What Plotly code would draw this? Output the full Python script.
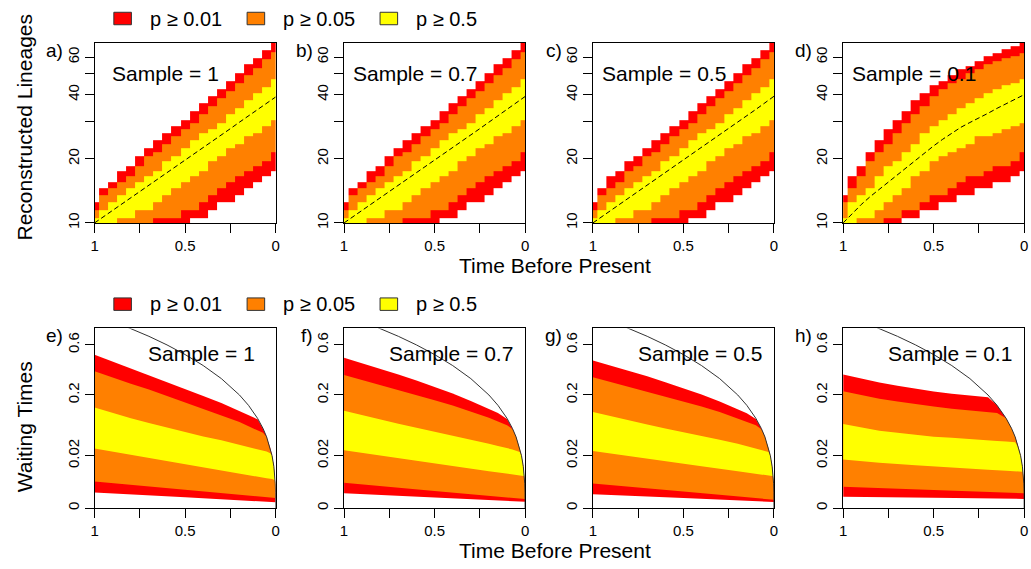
import numpy as np
import plotly.graph_objects as go

# ===================== DATA =====================
# ---- top row: reconstructed lineages (counts), time before present ----
time_grid = [1.0, 0.95, 0.9, 0.85, 0.8, 0.75, 0.7, 0.65, 0.6, 0.55, 0.5,
             0.45, 0.4, 0.35, 0.3, 0.25, 0.2, 0.15, 0.1, 0.05, 0.0]
lineage_rows = list(range(10, 71))

a_median    = [10, 10.7, 11.4, 12.2, 13.1, 14.0, 15.0, 16.1, 17.2, 18.4, 19.7, 21.1, 22.6, 24.2, 25.9, 27.7, 29.7, 31.8, 34.0, 36.4, 39.0]
a_red_hi    = [12, 14, 15, 17, 18, 20, 22, 24, 26, 28, 30, 33, 36, 39, 42, 46, 50, 55, 59, 64, 70]
a_orange_hi = [11, 13, 14, 15, 16, 18, 20, 21, 23, 25, 27, 29, 32, 35, 38, 41, 45, 49, 53, 58, 63]
a_yellow_hi = [10, 11, 12, 13, 14, 15, 16, 17, 19, 20, 22, 24, 26, 27, 29, 32, 34, 37, 40, 43, 47]
a_yellow_lo = [10, 10, 10, 11, 11, 12, 12, 13, 14, 15, 16, 17, 18, 20, 21, 23, 24, 26, 27, 29, 31]
a_orange_lo = [10, 10, 10, 10, 10, 10, 10, 11, 11, 11, 12, 12, 13, 14, 15, 16, 17, 18, 19, 20, 22]
a_red_lo    = [10, 10, 10, 10, 10, 10, 10, 10, 10, 10, 10, 11, 11, 12, 13, 13, 14, 15, 16, 17, 18]

b_median    = [10, 10.7, 11.4, 12.2, 13.1, 14.0, 15.0, 16.1, 17.2, 18.4, 19.7, 21.1, 22.6, 24.2, 25.9, 27.7, 29.7, 31.8, 34.0, 36.5, 39.2]
b_red_hi    = [12, 14, 15, 17, 18, 20, 22, 24, 26, 28, 30, 33, 36, 39, 42, 46, 50, 55, 59, 64, 70]
b_orange_hi = [11, 13, 14, 15, 16, 18, 20, 21, 23, 25, 27, 29, 32, 35, 38, 41, 45, 49, 53, 58, 63]
b_yellow_hi = [10, 11, 12, 13, 14, 15, 16, 17, 19, 20, 22, 24, 26, 27, 29, 32, 34, 37, 40, 43, 47]
b_yellow_lo = [10, 10, 10, 11, 11, 12, 12, 13, 14, 15, 16, 17, 18, 20, 21, 23, 24, 26, 27, 29, 31]
b_orange_lo = [10, 10, 10, 10, 10, 10, 10, 11, 11, 11, 12, 12, 13, 14, 15, 16, 17, 18, 19, 20, 22]
b_red_lo    = [10, 10, 10, 10, 10, 10, 10, 10, 10, 10, 10, 11, 11, 12, 13, 13, 14, 15, 16, 17, 18]

c_median    = [10, 10.7, 11.5, 12.3, 13.2, 14.1, 15.1, 16.2, 17.3, 18.5, 19.8, 21.2, 22.7, 24.3, 26.0, 27.8, 29.8, 31.9, 34.1, 36.6, 39.3]
c_red_hi    = [12, 14, 16, 17, 19, 20, 22, 24, 26, 28, 30, 33, 36, 39, 42, 46, 50, 55, 59, 64, 70]
c_orange_hi = [11, 13, 14, 15, 17, 18, 20, 21, 23, 25, 27, 29, 32, 35, 38, 41, 45, 49, 53, 58, 63]
c_yellow_hi = [10, 11, 12, 13, 14, 15, 16, 17, 19, 20, 22, 24, 26, 27, 29, 32, 34, 37, 40, 43, 47]
c_yellow_lo = [10, 10, 10, 11, 11, 12, 12, 13, 14, 15, 16, 17, 18, 20, 21, 23, 24, 26, 27, 29, 31]
c_orange_lo = [10, 10, 10, 10, 10, 10, 10, 11, 11, 11, 12, 12, 13, 14, 15, 16, 17, 18, 19, 20, 22]
c_red_lo    = [10, 10, 10, 10, 10, 10, 10, 10, 10, 10, 10, 11, 11, 12, 13, 13, 14, 15, 16, 17, 18]

d_median    = [10, 11.1, 12.2, 13.3, 14.4, 15.6, 16.9, 18.2, 19.6, 21.3, 23.0, 24.7, 26.4, 28.1, 29.6, 31.0, 32.7, 34.5, 36.3, 38.1, 40.0]
d_red_hi    = [13, 16, 18, 21, 24, 27, 30, 33, 37, 40, 44, 46, 49, 52, 54, 57, 60, 62, 65, 67, 70]
d_orange_hi = [12, 14, 16, 19, 21, 23, 26, 29, 32, 35, 39, 42, 45, 47, 50, 52, 55, 57, 59, 60, 62]
d_yellow_hi = [10, 12, 13, 14, 16, 18, 19, 21, 23, 26, 28, 30, 32, 34, 36, 38, 40, 42, 44, 45, 47]
d_yellow_lo = [10, 10, 11, 11, 12, 13, 14, 15, 17, 18, 20, 21, 22, 23, 24, 26, 26, 27, 28, 29, 30]
d_orange_lo = [10, 10, 10, 10, 10, 11, 11, 12, 12, 13, 14, 14, 15, 16, 17, 17, 18, 19, 19, 20, 22]
d_red_lo    = [10, 10, 10, 10, 10, 10, 10, 11, 11, 12, 12, 13, 13, 14, 14, 15, 15, 16, 16, 17, 18]

# ---- bottom row: waiting times ----
wt_top_t = [1, 0.9, 0.8, 0.7, 0.6, 0.5, 0.4, 0.3, 0.2, 0.15, 0.1, 0.07, 0.05, 0.03, 0.02, 0.01, 0.005, 0.002, 0.0005]
wt_ybot_t = [1, 0.8, 0.6, 0.4, 0.2, 0.1, 0.05, 0.02, 0.01, 0.005, 0.002, 0.0005]
wt_bot_t = [1, 0.5, 0]

e_red_top    = [0.498, 0.434, 0.378, 0.327, 0.279, 0.237, 0.195, 0.160, 0.125, 0.109, 0.097, 0.07, 0.05, 0.03, 0.02, 0.01, 0.005, 0.002, 0.0005]
e_orange_top = [0.354, 0.306, 0.266, 0.230, 0.195, 0.164, 0.136, 0.110, 0.088, 0.076, 0.066, 0.059, 0.05, 0.03, 0.02, 0.01, 0.005, 0.002, 0.0005]
e_yellow_top = [0.141, 0.119, 0.100, 0.085, 0.072, 0.061, 0.051, 0.043, 0.035, 0.032, 0.028, 0.026, 0.025, 0.023, 0.02, 0.01, 0.005, 0.002, 0.0005]
e_yellow_bot = [0.0292, 0.0209, 0.0144, 0.0094, 0.0057, 0.0043, 0.0037, 0.0034, 0.0032, 0.0032, 0.002, 0.0005]
e_orange_bot = [0.00262, 0.00086, 0.000147]
e_red_bot    = [0.000544, 0.000177, 0.0000287]

f_red_top    = [0.469, 0.419, 0.376, 0.330, 0.287, 0.245, 0.208, 0.170, 0.135, 0.119, 0.098, 0.07, 0.05, 0.03, 0.02, 0.01, 0.005, 0.002, 0.0005]
f_orange_top = [0.326, 0.291, 0.259, 0.230, 0.201, 0.174, 0.149, 0.125, 0.102, 0.090, 0.079, 0.068, 0.05, 0.03, 0.02, 0.01, 0.005, 0.002, 0.0005]
f_yellow_top = [0.128, 0.111, 0.096, 0.083, 0.072, 0.062, 0.053, 0.045, 0.037, 0.033, 0.030, 0.028, 0.026, 0.0245, 0.02, 0.01, 0.005, 0.002, 0.0005]
f_yellow_bot = [0.0267, 0.0201, 0.0147, 0.0104, 0.0070, 0.0056, 0.0050, 0.0047, 0.0046, 0.0046, 0.002, 0.0005]
f_orange_bot = [0.00224, 0.00070, 0.000104]
f_red_bot    = [0.00046, 0.00017, 0.000038]

g_red_top    = [0.445, 0.400, 0.358, 0.316, 0.276, 0.237, 0.203, 0.167, 0.134, 0.118, 0.098, 0.07, 0.05, 0.03, 0.02, 0.01, 0.005, 0.002, 0.0005]
g_orange_top = [0.309, 0.276, 0.247, 0.220, 0.194, 0.168, 0.145, 0.123, 0.100, 0.090, 0.079, 0.068, 0.05, 0.03, 0.02, 0.01, 0.005, 0.002, 0.0005]
g_yellow_top = [0.123, 0.107, 0.093, 0.081, 0.070, 0.061, 0.052, 0.044, 0.037, 0.033, 0.030, 0.028, 0.026, 0.0245, 0.02, 0.01, 0.005, 0.002, 0.0005]
g_yellow_bot = [0.0258, 0.0196, 0.0144, 0.0102, 0.0069, 0.0056, 0.0050, 0.0047, 0.0046, 0.0046, 0.002, 0.0005]
g_orange_bot = [0.00207, 0.00063, 0.000083]
g_red_bot    = [0.000375, 0.000141, 0.0000324]

h_red_top    = [0.329, 0.298, 0.274, 0.253, 0.235, 0.219, 0.207, 0.196, 0.188, 0.15, 0.1, 0.07, 0.05, 0.03, 0.02, 0.01, 0.005, 0.002, 0.0005]
h_orange_top = [0.221, 0.200, 0.181, 0.167, 0.155, 0.145, 0.136, 0.128, 0.122, 0.119, 0.1, 0.07, 0.05, 0.03, 0.02, 0.01, 0.005, 0.002, 0.0005]
h_yellow_top = [0.082, 0.072, 0.064, 0.059, 0.054, 0.0505, 0.048, 0.045, 0.043, 0.042, 0.041, 0.040, 0.0395, 0.03, 0.02, 0.01, 0.005, 0.002, 0.0005]
h_yellow_bot = [0.0160, 0.0130, 0.0109, 0.0092, 0.0079, 0.0073, 0.0070, 0.0068, 0.0067, 0.005, 0.002, 0.0005]
h_orange_bot = [0.00136, 0.00082, 0.00045]
h_red_bot    = [0.000212, 0.000155, 0.000109]

# upper envelope of waiting times
bound_t = [0.85, 0.8, 0.7, 0.6, 0.5, 0.4, 0.3, 0.2, 0.15, 0.1, 0.07, 0.05, 0.03, 0.02, 0.01, 0.005, 0.002, 0.0005, 0.0001, 0.0]
bound_w = [0.85, 0.8, 0.7, 0.6, 0.5, 0.4, 0.3, 0.2, 0.15, 0.1, 0.07, 0.05, 0.03, 0.02, 0.01, 0.005, 0.002, 0.0005, 0.0001, 0.0]

panel_labels_top = ["a)", "b)", "c)", "d)"]
panel_labels_bot = ["e)", "f)", "g)", "h)"]
sample_texts = ["Sample = 1", "Sample = 0.7", "Sample = 0.5", "Sample = 0.1"]
legend_labels = ["p \u2265 0.01", "p \u2265 0.05", "p \u2265 0.5"]
x_tickvals = [1, 0.75, 0.5, 0.25, 0]
x_ticktext = ["1", "", "0.5", "", "0"]
lin_tickvals = [10, 20, 30, 40, 50, 60]
lin_ticktext = ["10", "20", "", "40", "", "60"]
wt_tickvals = [0, 0.02, 0.2, 0.6]
wt_ticktext = ["0", "0.02", "0.2", "0.6"]

# ===================== STYLE / LAYOUT =====================
RED, ORANGE, YELLOW = "#FF0000", "#FF8000", "#FFFF00"
FONT = "Liberation Sans, Arial, sans-serif"
W, H = 1031, 569

def px_x(p):
    return p / W

def px_y(p):
    return 1 - p / H

panel_left = [91.3, 342.7, 593.5, 845.7]
panel_w = 182.5
row_top = [43.3, 332.0]
row_bot = [225.3, 513.6]

fig = go.Figure()

top_panels = [
    (a_median, a_red_lo, a_orange_lo, a_yellow_lo, a_yellow_hi, a_orange_hi, a_red_hi),
    (b_median, b_red_lo, b_orange_lo, b_yellow_lo, b_yellow_hi, b_orange_hi, b_red_hi),
    (c_median, c_red_lo, c_orange_lo, c_yellow_lo, c_yellow_hi, c_orange_hi, c_red_hi),
    (d_median, d_red_lo, d_orange_lo, d_yellow_lo, d_yellow_hi, d_orange_hi, d_red_hi),
]
bottom_panels = [
    (e_red_top, e_orange_top, e_yellow_top, e_yellow_bot, e_orange_bot, e_red_bot),
    (f_red_top, f_orange_top, f_yellow_top, f_yellow_bot, f_orange_bot, f_red_bot),
    (g_red_top, g_orange_top, g_yellow_top, g_yellow_bot, g_orange_bot, g_red_bot),
    (h_red_top, h_orange_top, h_yellow_top, h_yellow_bot, h_orange_bot, h_red_bot),
]

colorscale = [[0, RED], [1 / 3, RED], [1 / 3, ORANGE], [2 / 3, ORANGE], [2 / 3, YELLOW], [1, YELLOW]]
t_asc = time_grid[::-1]

def axnames(k):
    return ("x" if k == 1 else f"x{k}", "y" if k == 1 else f"y{k}")

for i, (med, r_lo, o_lo, y_lo, y_hi, o_hi, r_hi) in enumerate(top_panels):
    xa, ya = axnames(i + 1)
    z = []
    for n in lineage_rows:
        row = []
        for j in range(len(time_grid)):
            if y_lo[j] <= n <= y_hi[j]:
                v = 3
            elif o_lo[j] <= n <= o_hi[j]:
                v = 2
            elif r_lo[j] <= n <= r_hi[j]:
                v = 1
            else:
                v = None
            row.append(v)
        z.append(row[::-1])
    fig.add_trace(go.Heatmap(x=t_asc, y=lineage_rows, z=z, zmin=0.5, zmax=3.5,
                             colorscale=colorscale, showscale=False, hoverinfo="skip",
                             xaxis=xa, yaxis=ya))
    fig.add_trace(go.Scatter(x=time_grid, y=med, mode="lines",
                             line=dict(color="black", width=1, dash="5px,3px"),
                             hoverinfo="skip", showlegend=False, xaxis=xa, yaxis=ya))

for i, (rt, ot, yt, yb, ob, rb) in enumerate(bottom_panels):
    xa, ya = axnames(i + 5)
    bands = [(wt_top_t, rt, wt_bot_t, rb, RED),
             (wt_top_t, ot, wt_bot_t, ob, ORANGE),
             (wt_top_t, yt, wt_ybot_t, yb, YELLOW)]
    for tt, tw, bt, bw, col in bands:
        xs = list(tt) + list(bt[::-1])
        ys = np.cbrt(np.array(list(tw) + list(bw[::-1]), dtype=float))
        fig.add_trace(go.Scatter(x=xs, y=ys, mode="lines", fill="toself", fillcolor=col,
                                 line=dict(width=0, color=col), hoverinfo="skip",
                                 showlegend=False, xaxis=xa, yaxis=ya))
    fig.add_trace(go.Scatter(x=bound_t, y=np.cbrt(np.array(bound_w, dtype=float)), mode="lines",
                             line=dict(color="#333333", width=1), hoverinfo="skip",
                             showlegend=False, xaxis=xa, yaxis=ya))

layout = dict(width=W, height=H, margin=dict(l=0, r=0, t=0, b=0),
              paper_bgcolor="white", plot_bgcolor="white", showlegend=False,
              font=dict(family=FONT, color="black"))

common = dict(showline=True, mirror=True, linecolor="black", linewidth=1,
              ticks="outside", ticklen=9, tickwidth=1, tickcolor="black",
              showgrid=False, zeroline=False, fixedrange=True,
              tickfont=dict(size=15, family=FONT, color="black"))

for k in range(1, 9):
    i = (k - 1) % 4
    r = (k - 1) // 4
    xa, ya = axnames(k)
    xname = "xaxis" if k == 1 else f"xaxis{k}"
    yname = "yaxis" if k == 1 else f"yaxis{k}"
    layout[xname] = dict(domain=[px_x(panel_left[i]), px_x(panel_left[i] + panel_w)],
                         anchor=ya, range=[1, 0], tickmode="array",
                         tickvals=x_tickvals, ticktext=x_ticktext, **common)
    yd = [px_y(row_bot[r]), px_y(row_top[r])]
    if r == 0:
        layout[yname] = dict(domain=yd, anchor=xa, type="log", range=[1, np.log10(70)],
                             tickmode="array", tickvals=lin_tickvals, ticktext=lin_ticktext,
                             tickangle=-90, **common)
    else:
        layout[yname] = dict(domain=yd, anchor=xa, range=[0, float(np.cbrt(0.8))],
                             tickmode="array", tickvals=list(np.cbrt(np.array(wt_tickvals, dtype=float))),
                             ticktext=wt_ticktext, tickangle=-90, **common)

annotations = []
shapes = []

def ann(text, x, y, size, xanchor="center", yanchor="middle", angle=0):
    annotations.append(dict(text=text, x=px_x(x), y=px_y(y), xref="paper", yref="paper",
                            xanchor=xanchor, yanchor=yanchor, showarrow=False, textangle=angle,
                            font=dict(size=size, family=FONT, color="black")))

for r in range(2):
    labels = panel_labels_top if r == 0 else panel_labels_bot
    for i in range(4):
        ann(labels[i], panel_left[i] - 29.5, row_top[r] + 7.5, 19, xanchor="right")
        if r == 0:
            ann(sample_texts[i], panel_left[i] + 71.5, row_top[r] + 30.7, 21)
        else:
            ann(sample_texts[i], panel_left[i] + 108, row_top[r] + 25.5, 21)
    # legend row
    ly = 18.7 + r * 288.7
    sq_left = [110.7, 245.0, 379.0]
    for col, sl, lab in zip([RED, ORANGE, YELLOW], sq_left, legend_labels):
        shapes.append(dict(type="rect", xref="paper", yref="paper",
                           x0=px_x(sl), x1=px_x(sl + 17.7), y0=px_y(ly + 6.3), y1=px_y(ly - 6.3),
                           fillcolor=col, line=dict(color="#333333", width=1)))
        ann(lab, sl + 17.7 + 16.5, ly, 20, xanchor="left")
    ann("Time Before Present", 555, 268 + r * 288.7, 21)

ann("Reconstructed Lineages", 21, 129, 21, angle=-90)
ann("Waiting Times", 21, 431, 21, angle=-90)

layout["annotations"] = annotations
layout["shapes"] = shapes
fig.update_layout(**layout)

fig.write_html("out.html")
